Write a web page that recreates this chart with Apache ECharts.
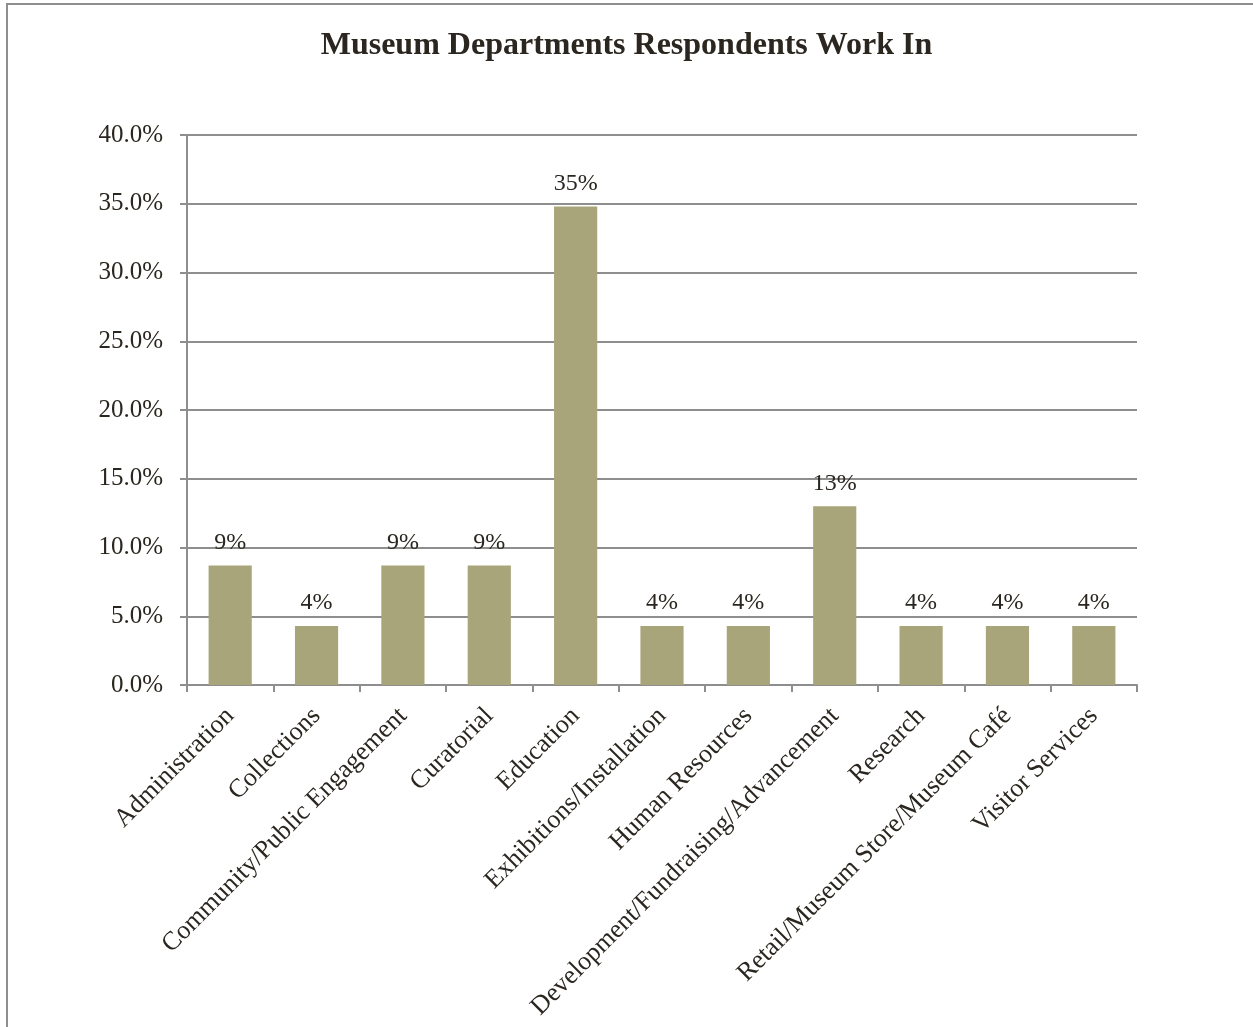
<!DOCTYPE html>
<html>
<head>
<meta charset="utf-8">
<script src="https://cdn.jsdelivr.net/npm/echarts@6/dist/echarts.min.js"></script>
<style>
  html, body { margin: 0; padding: 0; background: #ffffff; }
  #chart { width: 1253px; height: 1027px; }
</style>
</head>
<body>
<div id="chart"></div>
<script>
// Share of respondents by museum department (percent)
const departments = [
  'Administration',
  'Collections',
  'Community/Public Engagement',
  'Curatorial',
  'Education',
  'Exhibitions/Installation',
  'Human Resources',
  'Development/Fundraising/Advancement',
  'Research',
  'Retail/Museum Store/Museum Café',
  'Visitor Services'
];
const shares = [8.7, 4.3, 8.7, 8.7, 34.8, 4.3, 4.3, 13.0, 4.3, 4.3, 4.3];

const titleText = 'Museum Departments Respondents Work In';
const serif = "'Liberation Serif', 'Times New Roman', serif";
const textColor = '#2b2720';
const lineColor = '#8e8e8e';

const chart = echarts.init(document.getElementById('chart'));
chart.setOption({
  backgroundColor: '#ffffff',
  animation: false,
  title: {
    text: titleText,
    left: 'center',
    top: 25,
    textStyle: { fontFamily: serif, fontWeight: 'bold', fontSize: 32, color: textColor }
  },
  graphic: [{
    type: 'polyline',
    shape: { points: [[7, 1027], [7, 4], [1253, 4]] },
    style: { stroke: lineColor, lineWidth: 2, fill: null }
  }],
  grid: { left: 187, right: 116, top: 135, bottom: 342 },
  xAxis: {
    type: 'category',
    data: departments,
    axisLine: { lineStyle: { color: lineColor, width: 2 } },
    axisTick: { show: true, length: 7, lineStyle: { color: lineColor, width: 2 } },
    axisLabel: {
      rotate: 45,
      interval: 0,
      margin: 27,
      fontFamily: serif,
      fontSize: 26,
      color: textColor
    }
  },
  yAxis: {
    type: 'value',
    min: 0,
    max: 40,
    interval: 5,
    axisLine: { show: true, lineStyle: { color: lineColor, width: 2 } },
    axisTick: { show: true, length: 7, lineStyle: { color: lineColor, width: 2 } },
    splitLine: { lineStyle: { color: lineColor, width: 2 } },
    axisLabel: {
      margin: 24,
      fontFamily: serif,
      fontSize: 25,
      color: textColor,
      formatter: v => v.toFixed(1) + '%'
    }
  },
  series: [{
    type: 'bar',
    data: shares,
    barWidth: '50%',
    itemStyle: { color: '#a9a57b' },
    label: {
      show: true,
      position: 'top',
      distance: 11,
      fontFamily: serif,
      fontSize: 24,
      color: textColor,
      formatter: p => Math.round(p.value) + '%'
    }
  }]
});
</script>
</body>
</html>
